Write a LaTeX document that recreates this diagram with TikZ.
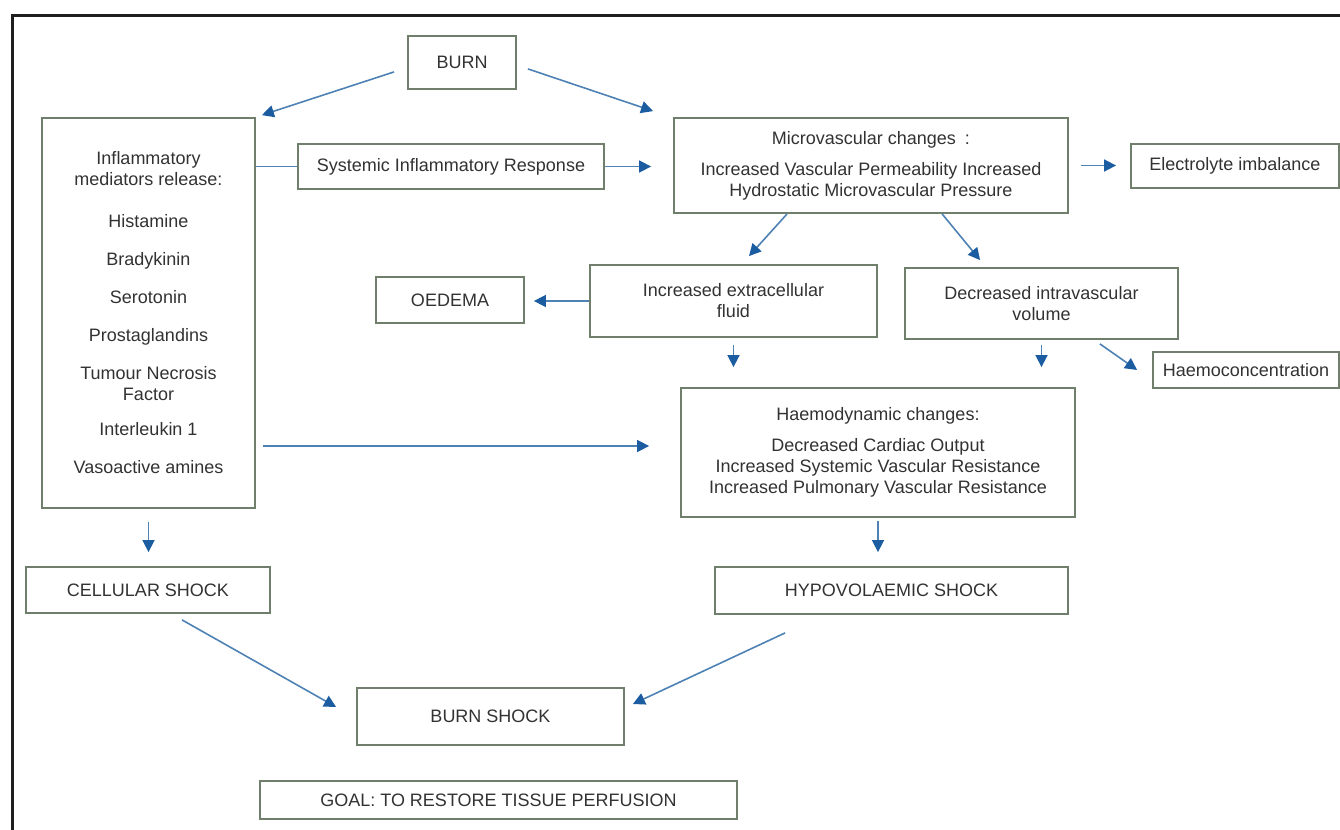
\documentclass[tikz,border=0pt]{standalone}
\usepackage{fontspec}
\setmainfont{Liberation Sans}
\usetikzlibrary{arrows.meta}
\definecolor{boxc}{RGB}{112,126,108}
\definecolor{txtc}{RGB}{50,50,50}
\definecolor{linec}{RGB}{78,130,180}
\definecolor{headc}{RGB}{28,92,160}
\definecolor{framec}{RGB}{30,30,30}
\tikzset{
  box/.style={draw=boxc, line width=0.9pt, inner sep=0pt, align=center,
    text=txtc, font=\fontsize{9}{10.5}\selectfont},
  wh/.style 2 args={minimum width=#1*0.5pt, minimum height=#2*0.5pt},
  arr/.style={draw=linec, line width=0.8pt,
    -{Triangle[length=6pt,width=6pt,color=headc]}},
  plainline/.style={draw=linec, line width=0.8pt},
}
\begin{document}
\begin{tikzpicture}[x=0.5pt,y=-0.5pt]
\useasboundingbox (0,0) rectangle (1340,830);
\draw[framec, line width=1.5pt] (12,830) -- (12,15) -- (1340,15);

\node[box, wh={108}{53}] (burn) at (462,62.5) {BURN};
\node[box, wh={213}{390}] (infl) at (148.5,313)
  {Inflammatory\\ mediators release:\\[10.5pt]
   Histamine\\[8.5pt] Bradykinin\\[8.5pt] Serotonin\\[8.5pt] Prostaglandins\\[8.5pt]
   Tumour Necrosis\\ Factor\\[7pt] Interleukin 1\\[8.5pt] Vasoactive amines};
\node[box, wh={306}{45}] (sir) at (451,166.5) {Systemic Inflammatory Response};
\node[box, wh={394}{95}] (micro) at (871,165.5)
  {Microvascular changes\enspace:\\[5pt]
   Increased Vascular Permeability Increased\\ Hydrostatic Microvascular Pressure};
\node[box, wh={208}{44}] (elec) at (1235,166) {Electrolyte imbalance};
\node[box, wh={148}{46}] (oed) at (450,300) {OEDEMA};
\node[box, wh={287}{72}] (incr) at (733.5,301)
  {Increased extracellular\\ fluid};
\node[box, wh={273}{71}] (decr) at (1041.5,303.5)
  {Decreased intravascular\\ volume};
\node[box, wh={186}{36}] (haemoc) at (1246,370) {Haemoconcentration};
\node[box, wh={394}{129}] (haemod) at (878,452.5)
  {Haemodynamic changes:\\[5pt]
   Decreased Cardiac Output\\ Increased Systemic Vascular Resistance\\
   Increased Pulmonary Vascular Resistance};
\node[box, wh={244}{46}] (cell) at (148,590) {CELLULAR SHOCK};
\node[box, wh={353}{47}] (hypo) at (891.5,590.5) {HYPOVOLAEMIC SHOCK};
\node[box, wh={267}{57}] (bshock) at (490.5,716.5) {BURN SHOCK};
\node[box, wh={477}{38}] (goal) at (498.5,800) {GOAL: TO RESTORE TISSUE PERFUSION};

% connectors
\draw[arr] ([shift={(-13,-18)}]burn.south west) -- ([shift={(6,-2)}]infl.north east);
\draw[arr] ([shift={(11,-21)}]burn.south east) -- ([shift={(-20,-6)}]micro.north west);
\draw[plainline] (sir.west -| infl.east) -- (sir.west);
\draw[arr, shorten >=11pt] (sir.east) -- (sir.east -| micro.west);
\draw[arr, shorten <=6pt, shorten >=7pt] (micro.east) -- (micro.east -| elec.west);
\draw[arr] ([shift={(114,0)}]micro.south west) -- ([shift={(15.5,-8)}]incr.north);
\draw[arr] ([shift={(269,0)}]micro.south west) -- ([shift={(76,-7)}]decr.north west);
\draw[arr, shorten >=4.5pt] (incr.west) -- (incr.west -| oed.east);
\draw[arr, shorten <=3.5pt, shorten >=10pt] (incr.south) -- (incr.south |- haemod.north);
\draw[arr, shorten <=2.5pt, shorten >=10pt] (decr.south) -- (decr.south |- haemod.north);
\draw[arr] ([shift={(-79,4)}]decr.south east) -- ([shift={(-15,0)}]haemoc.west);
\draw[arr] ([shift={(7,-6.5)}]haemod.west -| infl.east) -- ([shift={(-31,-6.5)}]haemod.west);
\draw[arr, shorten <=6.5pt, shorten >=7pt] (infl.south) -- (infl.south |- cell.north);
\draw[arr, shorten <=1.5pt, shorten >=7pt] (haemod.south) -- (haemod.south |- hypo.north);
\draw[arr] ([shift={(34,6)}]cell.south) -- ([shift={(-20,-9.5)}]bshock.west);
\draw[arr] ([shift={(71,18)}]hypo.south west) -- ([shift={(8,-12.5)}]bshock.east);
\end{tikzpicture}
\end{document}
